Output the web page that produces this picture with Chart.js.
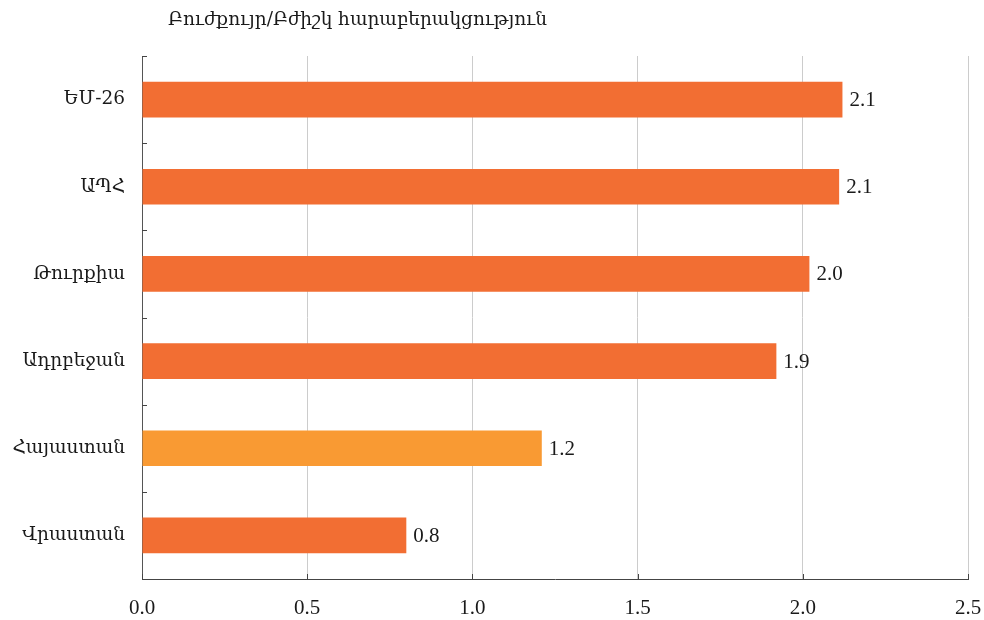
<!DOCTYPE html>
<html>
<head>
<meta charset="utf-8">
<script src="https://cdn.jsdelivr.net/npm/chart.js@4/dist/chart.umd.min.js"></script>
<style>
html,body{margin:0;padding:0;background:#fff;}
#wrap{width:984px;height:620px;}
</style>
</head>
<body>
<div id="wrap"><canvas id="c" width="984" height="620"></canvas></div>
<script>
const categories = ["ԵՄ-26", "ԱՊՀ", "Թուրքիա", "Ադրբեջան", "Հայաստան", "Վրաստան"];
const ratios = [2.12, 2.11, 2.02, 1.92, 1.21, 0.80];
const barColors = ["#F26E33", "#F26E33", "#F26E33", "#F26E33", "#F99A33", "#F26E33"];
const xTicks = [0, 0.5, 1.0, 1.5, 2.0, 2.5];
const titleText = "Բուժքույր/Բժիշկ հարաբերակցություն";

const FONT = "'Liberation Serif','DejaVu Serif','Times New Roman',serif";
const ARM_FONT = "'DejaVu Serif','Liberation Serif',serif";

const extras = {
  id: 'extras',
  afterDraw(chart) {
    const ctx = chart.ctx;
    const xs = chart.scales.x, ys = chart.scales.y;
    const area = chart.chartArea;
    ctx.save();
    ctx.strokeStyle = '#444';
    ctx.lineWidth = 1;
    const n = categories.length;
    const step = (ys.getPixelForValue(1) - ys.getPixelForValue(0));
    for (let i = 0; i <= n; i++) {
      const y = Math.round(ys.getPixelForValue(0) - step / 2 + step * i) + 0.5;
      ctx.beginPath();
      ctx.moveTo(xs.left, y);
      ctx.lineTo(xs.left + 5, y);
      ctx.stroke();
    }
    xTicks.forEach(v => {
      const x = Math.round(xs.getPixelForValue(v)) + 0.5;
      ctx.beginPath();
      ctx.moveTo(x, area.bottom);
      ctx.lineTo(x, area.bottom - 5);
      ctx.stroke();
    });
    ctx.fillStyle = '#1a1a1a';
    ctx.font = "21px " + FONT;
    ctx.textAlign = 'left';
    ctx.textBaseline = 'middle';
    const meta = chart.getDatasetMeta(0);
    meta.data.forEach((bar, i) => {
      ctx.fillText(ratios[i].toFixed(1), bar.x + 7, bar.y + 1);
    });
    ctx.font = "18.5px " + ARM_FONT;
    ctx.fillText(titleText, area.left + 26, 20);
    ctx.restore();
  }
};

new Chart(document.getElementById('c'), {
  type: 'bar',
  data: {
    labels: categories,
    datasets: [{
      data: ratios,
      backgroundColor: barColors,
      borderWidth: 0,
      categoryPercentage: 1.0,
      barPercentage: 0.41
    }]
  },
  options: {
    indexAxis: 'y',
    responsive: false,
    animation: false,
    layout: { autoPadding: false, padding: { top: 56, right: 16, left: 0, bottom: 0 } },
    plugins: { legend: { display: false }, tooltip: { enabled: false } },
    scales: {
      x: {
        min: 0, max: 2.5,
        afterBuildTicks(scale) { scale.ticks = xTicks.map(v => ({ value: v })); },
        afterFit(scale) { scale.height = 41; scale.paddingLeft = 0; scale.paddingRight = 0; },
        ticks: {
          padding: 17,
          color: '#1a1a1a',
          font: { family: FONT, size: 21 },
          callback: v => Number(v).toFixed(1),
          maxRotation: 0
        },
        grid: { color: '#cccccc', drawTicks: false, lineWidth: 1 },
        border: { display: true, color: '#444', width: 1 }
      },
      y: {
        afterFit(scale) { scale.width = 142; },
        ticks: {
          padding: 17,
          color: '#1a1a1a',
          font: { family: ARM_FONT, size: 18.5 }
        },
        grid: { display: true, drawOnChartArea: false, drawTicks: false },
        border: { display: true, color: '#555', width: 1 }
      }
    }
  },
  plugins: [extras]
});
</script>
</body>
</html>
